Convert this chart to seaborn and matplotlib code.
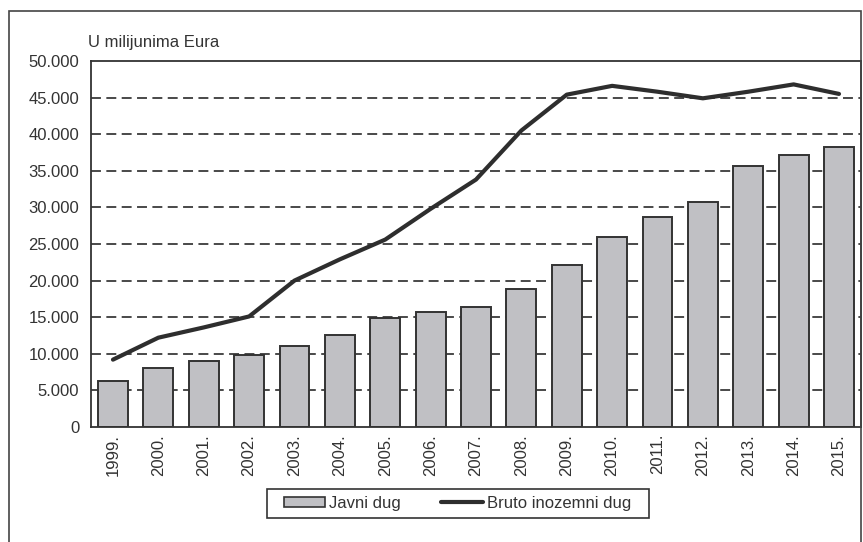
import matplotlib
matplotlib.use("Agg")
import matplotlib.pyplot as plt
import seaborn as sns
import pandas as pd
from matplotlib.patches import Patch, Rectangle
from matplotlib.lines import Line2D
from matplotlib.ticker import FuncFormatter

years = ["1999.", "2000.", "2001.", "2002.", "2003.", "2004.", "2005.", "2006.", "2007.",
         "2008.", "2009.", "2010.", "2011.", "2012.", "2013.", "2014.", "2015."]
javni_dug = [6300, 8000, 9000, 9800, 11100, 12600, 14900, 15700, 16400,
             18900, 22100, 26000, 28700, 30700, 35700, 37200, 38300]
bruto_inozemni_dug = [9200, 12200, 13600, 15100, 20000, 22900, 25600, 29800, 33800,
                      40500, 45400, 46600, 45800, 44900, 45800, 46800, 45500]
y_ticks = [0, 5000, 10000, 15000, 20000, 25000, 30000, 35000, 40000, 45000, 50000]

df = pd.DataFrame({"year": years, "javni": javni_dug, "bruto": bruto_inozemni_dug})

sns.set_theme(style="white")
plt.rcParams["font.family"] = ["Liberation Sans", "DejaVu Sans"]

fig = plt.figure(figsize=(8.63, 5.42), dpi=100)
ax = fig.add_axes([0.1054, 0.2122, 0.8923, 0.6753])

txt = "#333333"
fs = 12
for y in y_ticks[1:-1]:
    ax.axhline(y, color="#3a3a3a", lw=1.3, ls=(0, (5.5, 3)), zorder=0)

sns.barplot(data=df, x="year", y="javni", color="#c0c0c4", saturation=1,
            edgecolor="#333333", linewidth=1.4, width=0.66, ax=ax, zorder=2)
sns.lineplot(data=df, x="year", y="bruto", sort=False, color="#2e2e2e",
             lw=3.0, ax=ax, zorder=3)

ax.set_ylim(0, 50000)
ax.set_xlim(-0.485, 16.485)
ax.set_yticks(y_ticks)
ax.yaxis.set_major_formatter(FuncFormatter(lambda v, p: "0" if v == 0 else f"{int(v):,}".replace(",", ".")))
ax.set_xlabel("")
ax.set_ylabel("")
ax.tick_params(axis="y", labelsize=fs, colors=txt, length=0, pad=8.5)
ax.tick_params(axis="x", labelsize=fs, colors=txt, length=0, pad=5, rotation=90)
for s in ax.spines.values():
    s.set_color("#333333")
    s.set_linewidth(1.3)

fig.text(0.102, 0.922, "U milijunima Eura", fontsize=fs, color=txt, ha="left", va="center")

handles = [Patch(facecolor="#c0c0c4", edgecolor="#333333", linewidth=1.2),
           Line2D([0], [0], color="#2e2e2e", lw=3.0)]
leg = fig.legend(handles, ["Javni dug", "Bruto inozemni dug"], loc="center",
                 bbox_to_anchor=(0.5301, 0.071), ncol=2, fontsize=fs, frameon=False,
                 handlelength=2.5, handleheight=0.6,
                 columnspacing=2.4, handletextpad=0.25, borderpad=0.4)
for t in leg.get_texts():
    t.set_color(txt)

# legend frame box
fig.add_artist(Rectangle((267 / 863, 1 - 518 / 542), 382 / 863, 29 / 542,
                         transform=fig.transFigure, fill=False,
                         edgecolor="#333333", lw=1.2))

fig.add_artist(Rectangle((0.0105, -0.1), 0.9872, 1.08, transform=fig.transFigure,
                         fill=False, edgecolor="#444444", lw=1.2))

fig.savefig("out.png", dpi=100)
